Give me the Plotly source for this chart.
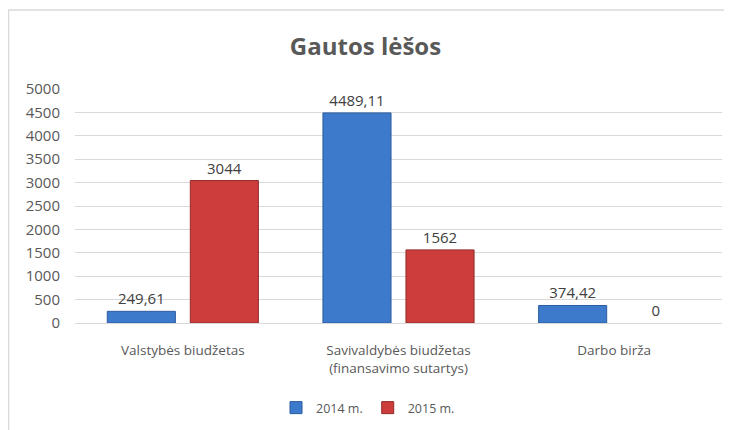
import plotly.graph_objects as go

categories = ["Valstybės biudžetas", "Savivaldybės biudžetas<br>(finansavimo sutartys)", "Darbo birža"]
series_names = ["2014 m.", "2015 m."]
values_2014 = [249.61, 4489.11, 374.42]
values_2015 = [3044, 1562, 0]
y_ticks = [0, 500, 1000, 1500, 2000, 2500, 3000, 3500, 4000, 4500, 5000]

def lbl(v):
    return f"{v:g}".replace(".", ",")

FONT = "Open Sans"
TXT = "#595959"

fig = go.Figure()
fig.add_trace(go.Bar(
    x=categories, y=values_2014, name=series_names[0],
    marker=dict(color="#3d7acb", line=dict(color="#2b5c9e", width=[1 if v > 0 else 0 for v in values_2014])),
    text=[lbl(v) for v in values_2014], textposition="outside",
    textfont=dict(family=FONT, size=15, color="#404040"), cliponaxis=False,
))
fig.add_trace(go.Bar(
    x=categories, y=values_2015, name=series_names[1],
    marker=dict(color="#cc3d3b", line=dict(color="#922b29", width=[1 if v > 0 else 0 for v in values_2015])),
    text=[lbl(v) for v in values_2015], textposition="outside",
    textfont=dict(family=FONT, size=15, color="#404040"), cliponaxis=False,
))

# page has an 8px body margin; figure coordinates are page coordinates minus 8
OFF = 8
W, H = 732 - OFF, 430 - OFF
L, T = 75 - OFF, 89 - OFF
pw, ph = 647, 234
R, B = W - L - pw, H - T - ph

fig.update_layout(
    width=W, height=H,
    margin=dict(l=L, r=R, t=T, b=B, autoexpand=False),
    paper_bgcolor="white", plot_bgcolor="white",
    barmode="group", bargap=0.23, bargroupgap=0.18,
    title=dict(text="<b>Gautos lėšos</b>", x=(365.5 - OFF) / W, xref="container", xanchor="center",
               y=1 - (47 - OFF) / H, yref="container", yanchor="middle",
               font=dict(family=FONT, size=24, color=TXT)),
    font=dict(family=FONT, size=13, color=TXT),
    legend=dict(orientation="h", x=(368 - L - OFF) / pw, xanchor="center",
                y=(T + ph - (408 - OFF)) / ph, yanchor="middle",
                font=dict(family=FONT, size=12.5, color=TXT),
                itemwidth=30, traceorder="normal"),
    showlegend=True,
    yaxis=dict(range=[0, 5000], tickvals=y_ticks, ticktext=[str(v) for v in y_ticks],
               showgrid=True, gridcolor="#d9d9d9", gridwidth=1,
               zeroline=True, zerolinecolor="#d9d9d9", zerolinewidth=1,
               showline=False, ticklabelstandoff=14,
               tickfont=dict(family=FONT, size=15, color=TXT)),
    xaxis=dict(showline=True, linecolor="#d9d9d9", linewidth=1, ticks="",
               ticklabelstandoff=15,
               tickfont=dict(family=FONT, size=13.5, color=TXT)),
    shapes=[dict(type="rect", xref="paper", yref="paper",
                 x0=(0.5 - L) / pw, x1=1.2, y0=-0.8, y1=(T + ph - (10 - OFF)) / ph,
                 line=dict(color="#d9d9d9", width=1.5), fillcolor="rgba(0,0,0,0)",
                 layer="below")],
)

fig.write_html("out.html")
